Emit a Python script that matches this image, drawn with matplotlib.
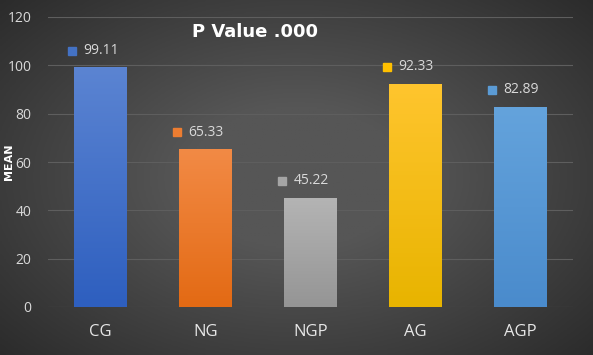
import numpy as np
import matplotlib
matplotlib.use('Agg')
import matplotlib.pyplot as plt
from matplotlib.colors import LinearSegmentedColormap

groups = ['CG', 'NG', 'NGP', 'AG', 'AGP']
means = [99.11, 65.33, 45.22, 92.33, 82.89]
top_cols = ['#5b84d2', '#f28a45', '#b4b4b4', '#ffc52e', '#64a3dc']
bot_cols = ['#2e5fbf', '#e36a14', '#959595', '#e8b400', '#4a8bcc']
sq_cols = ['#4472c4', '#ed7d31', '#a5a5a5', '#ffc000', '#5b9bd5']

plt.rcParams['font.family'] = ['Open Sans', 'DejaVu Sans']
fig = plt.figure(figsize=(5.93, 3.55), dpi=100)

# dark background with soft light in the middle
bg = fig.add_axes([0, 0, 1, 1], zorder=-10)
yy, xx = np.mgrid[0:1:200j, 0:1:300j]
r = np.sqrt(((xx - 0.5) / 0.75) ** 2 + ((yy - 0.5) / 0.8) ** 2)
shade = np.clip(1 - r, 0, 1)
bgcmap = LinearSegmentedColormap.from_list('bg', ['#262626', '#565656'])
bg.imshow(shade, cmap=bgcmap, aspect='auto', extent=[0, 1, 0, 1], vmin=0, vmax=0.75)
bg.axis('off')

ax = fig.add_axes([48 / 593, 48 / 355, 525 / 593, 290 / 355])
ax.set_facecolor('none')
x = np.arange(len(groups))
bars = ax.bar(x, means, width=0.5, color='none', zorder=2)
for i, b in enumerate(bars):
    cm = LinearSegmentedColormap.from_list('g%d' % i, [bot_cols[i], top_cols[i]])
    grad = np.linspace(0, 1, 100).reshape(-1, 1)
    im = ax.imshow(grad, cmap=cm, aspect='auto', origin='lower', zorder=2,
                   extent=[b.get_x(), b.get_x() + b.get_width(), 0, b.get_height()])
    im.set_clip_path(b)
    ax.plot(i - 0.27, means[i] + 7, marker='s', ms=5.5, color=sq_cols[i], ls='none', zorder=3)
    ax.text(i - 0.16, means[i] + 7, '%.2f' % means[i], color='#d9d9d9', fontsize=10,
            va='center', ha='left', zorder=3)

ax.set_xlim(-0.5, 4.5)
ax.set_ylim(0, 120)
ax.set_yticks(range(0, 121, 20))
ax.set_xticks(x)
ax.set_xticklabels(groups)
ax.grid(axis='y', color='#5e5e5e', lw=0.8, zorder=0)
ax.set_axisbelow(True)
for s in ax.spines.values():
    s.set_visible(False)
ax.tick_params(length=0)
ax.tick_params(axis='x', colors='#e6e6e6', labelsize=12, pad=12)
ax.tick_params(axis='y', colors='#d9d9d9', labelsize=10, pad=12)
ax.set_ylabel('MEAN', color='white', fontsize=8, fontweight='bold', family='DejaVu Sans')
ax.yaxis.set_label_coords(-0.064, 0.5)

fig.text(255 / 593, 1 - 32 / 355, 'P Value .000', color='white', fontsize=13,
         fontweight='bold', ha='center', va='center', family='DejaVu Sans')

fig.savefig('out.png', dpi=100)
